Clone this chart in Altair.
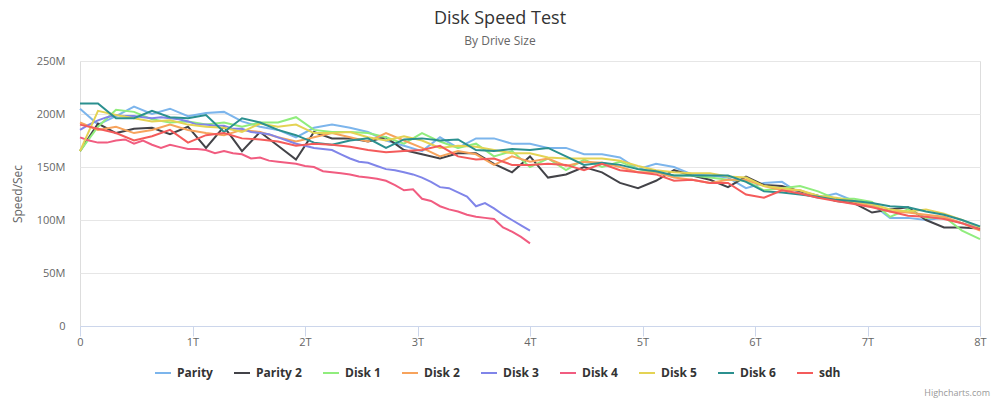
import altair as alt
import pandas as pd

# Drive speed samples in MB/s, taken every 2% of each drive's capacity.
SERIES = ["Parity", "Parity 2", "Disk 1", "Disk 2", "Disk 3", "Disk 4", "Disk 5", "Disk 6", "sdh"]
COLORS = ["#7cb5ec", "#434348", "#90ed7d", "#f7a35c", "#8085e9", "#f15c80", "#e4d354", "#2b908f", "#f45b5b"]
SIZE_TB = {"Parity": 8, "Parity 2": 8, "Disk 1": 8, "Disk 2": 8, "Disk 3": 4,
           "Disk 4": 4, "Disk 5": 8, "Disk 6": 8, "sdh": 8}

parity = [205, 190, 198, 207, 200, 205, 198, 201, 202, 193, 188, 185, 178, 187, 190, 187, 183,
          175, 170, 165, 178, 168, 177, 177, 172, 172, 168, 168, 162, 162, 159, 148, 153, 150,
          143, 142, 140, 130, 135, 136, 125, 121, 125, 118, 115, 102, 102, 100, 102, 97, 93]
parity_2 = [165, 191, 182, 186, 187, 181, 188, 168, 188, 165, 183, 170, 157, 183, 177, 177, 174,
            178, 166, 162, 158, 163, 163, 153, 145, 160, 140, 143, 150, 145, 135, 130, 137, 147,
            142, 138, 131, 141, 133, 132, 127, 123, 118, 116, 107, 110, 112, 100, 93, 93, 92]
disk_1 = [165, 188, 204, 202, 195, 192, 193, 190, 192, 188, 192, 192, 197, 185, 183, 183, 182,
          178, 172, 182, 174, 168, 172, 160, 165, 150, 158, 147, 157, 150, 155, 148, 145, 142,
          142, 140, 138, 137, 128, 130, 132, 127, 120, 120, 117, 103, 110, 102, 103, 90, 82]
disk_2 = [192, 185, 188, 182, 185, 190, 185, 182, 180, 185, 183, 178, 174, 178, 182, 178, 174,
          182, 175, 168, 160, 165, 162, 152, 160, 155, 158, 151, 155, 154, 150, 145, 145, 140,
          138, 135, 138, 138, 132, 128, 128, 122, 120, 117, 113, 108, 107, 105, 103, 97, 90]
disk_3 = [185, 190, 194, 197, 199, 198, 198, 197, 196, 197, 196, 195, 193, 190, 190, 189, 189,
          186, 186, 183, 182, 181, 178, 175, 172, 170, 168, 167, 166, 162, 158, 155, 154, 151,
          148, 147, 145, 143, 140, 136, 131, 130, 126, 122, 113, 116, 111, 105, 100, 95, 90]
disk_4 = [178, 175, 173, 173, 175, 176, 172, 175, 171, 168, 171, 169, 167, 167, 166, 163, 165,
          163, 162, 158, 159, 156, 155, 154, 153, 151, 150, 146, 145, 144, 143, 141, 140, 139,
          137, 133, 128, 129, 120, 118, 113, 110, 108, 105, 103, 102, 101, 93, 89, 84, 78]
disk_5 = [165, 203, 199, 196, 193, 194, 190, 188, 187, 183, 191, 188, 190, 182, 182, 183, 178,
          175, 179, 175, 168, 170, 169, 166, 163, 163, 159, 158, 158, 158, 156, 151, 147, 145,
          144, 144, 141, 140, 132, 130, 128, 123, 121, 118, 115, 110, 108, 110, 106, 100, 93]
disk_6 = [210, 210, 196, 196, 203, 197, 196, 199, 183, 196, 192, 185, 180, 173, 171, 175, 177,
          168, 176, 177, 175, 176, 166, 165, 167, 166, 168, 160, 152, 154, 152, 148, 146, 142,
          142, 142, 142, 136, 127, 126, 124, 122, 119, 118, 116, 113, 112, 108, 105, 100, 94]
sdh = [190, 186, 182, 175, 179, 185, 173, 180, 182, 177, 176, 174, 170, 172, 171, 169, 166,
       164, 165, 166, 170, 160, 157, 158, 152, 152, 153, 152, 147, 153, 147, 145, 143, 137,
       138, 135, 135, 124, 121, 128, 125, 121, 118, 115, 112, 108, 104, 103, 101, 97, 91]

values = {"Parity": parity, "Parity 2": parity_2, "Disk 1": disk_1, "Disk 2": disk_2,
          "Disk 3": disk_3, "Disk 4": disk_4, "Disk 5": disk_5, "Disk 6": disk_6, "sdh": sdh}

rows = []
for order, name in enumerate(SERIES):
    speeds = values[name]
    n = len(speeds) - 1
    for i, v in enumerate(speeds):
        rows.append({"drive": name, "order": order,
                     "pos": SIZE_TB[name] * i / n, "speed": v})
df = pd.DataFrame(rows)

FONT = "Open Sans"

lines = alt.Chart(df).mark_line(strokeWidth=2).encode(
    x=alt.X("pos:Q",
            scale=alt.Scale(domain=[0, 8], nice=False, zero=True),
            axis=alt.Axis(title=None, values=list(range(9)), grid=False, labelFlush=False,
                          labelExpr="datum.value == 0 ? '0' : datum.value + 'T'",
                          domainColor="#ccd6eb", tickColor="#ccd6eb", tickSize=10,
                          labelColor="#666666", labelFontSize=11, labelPadding=0,
                          labelFont=FONT)),
    y=alt.Y("speed:Q",
            scale=alt.Scale(domain=[0, 250], nice=False),
            axis=alt.Axis(title="Speed/Sec", values=[0, 50, 100, 150, 200, 250],
                          labelExpr="datum.value == 0 ? '0' : datum.value + 'M'",
                          domain=False, ticks=False, tickSize=0, gridColor="#e6e6e6",
                          labelColor="#666666", labelFontSize=11, labelPadding=15,
                          labelFont=FONT, titleFont=FONT, titleColor="#666666",
                          titleFontSize=12, titleFontWeight="normal", titlePadding=12)),
    color=alt.Color("drive:N",
                    scale=alt.Scale(domain=SERIES, range=COLORS),
                    legend=alt.Legend(title=None, orient="none", direction="horizontal",
                                      legendX=74, legendY=303, columns=9,
                                      symbolType="stroke", symbolSize=256,
                                      symbolStrokeWidth=2, columnPadding=17,
                                      labelOffset=5, labelFont=FONT, labelFontSize=12,
                                      labelFontWeight="bold", labelColor="#333333")),
    order=alt.Order("order:Q"),
    detail="drive:N",
)

credit = alt.Chart(pd.DataFrame({"t": ["Highcharts.com"]})).mark_text(
    align="right", baseline="alphabetic", fontSize=9, color="#999999", font=FONT
).encode(text="t:N", x=alt.value(910), y=alt.value(335))

chart = alt.layer(lines, credit).properties(
    width=900, height=265,
    padding={"left": 80, "top": 61, "right": 20, "bottom": 74},
    autosize=alt.AutoSizeParams(type="none"),
    title=alt.TitleParams(text="Disk Speed Test", subtitle="By Drive Size",
                          anchor="middle", frame="group", dx=-30, offset=8,
                          font=FONT, fontSize=18, fontWeight="normal", color="#333333",
                          subtitleFont=FONT, subtitleFontSize=12, subtitleColor="#666666",
                          subtitlePadding=8),
).configure_view(stroke=None).configure(background="white")

chart.save("out.html", embed_options={"renderer": "svg", "actions": False})
